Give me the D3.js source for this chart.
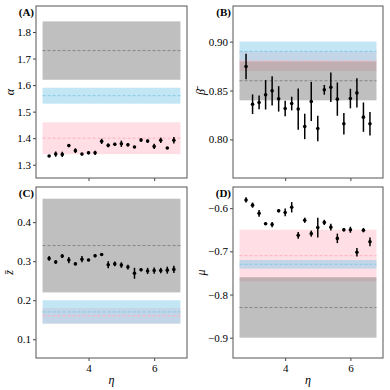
<!DOCTYPE html>
<html><head><meta charset="utf-8">
<script src="https://cdn.jsdelivr.net/npm/d3@7"></script>
<style>
body{margin:0;background:#fff;}
text{font-family:"Liberation Serif","DejaVu Serif",serif;}
</style></head>
<body><svg id="c" width="390" height="390"></svg>
<script>
// ---- data ----
const eta = [2.8,3.0,3.2,3.4,3.6,3.8,4.0,4.2,4.4,4.6,4.8,5.0,5.2,5.4,5.6,5.8,6.0,6.2,6.4,6.6];
const alphaVals = [1.333,1.340,1.339,1.372,1.353,1.340,1.345,1.345,1.388,1.373,1.377,1.379,1.375,1.367,1.393,1.389,1.369,1.392,1.363,1.392];
const alphaErr  = [0.003,0.010,0.010,0.005,0.009,0.003,0.006,0.008,0.010,0.007,0.006,0.012,0.006,0.004,0.007,0.006,0.010,0.010,0.003,0.012];
const betaVals = [0.8745,0.836,0.8378,0.8456,0.8497,0.8415,0.8316,0.8367,0.831,0.8133,0.8388,0.8112,0.8507,0.8534,0.8412,0.816,0.8418,0.8476,0.8228,0.816];
const betaErr  = [0.013,0.010,0.007,0.015,0.015,0.013,0.008,0.007,0.021,0.013,0.020,0.013,0.005,0.015,0.017,0.011,0.010,0.015,0.015,0.012];
const zVals = [0.307,0.298,0.313,0.303,0.293,0.305,0.303,0.314,0.317,0.291,0.293,0.290,0.285,0.269,0.278,0.275,0.276,0.276,0.277,0.279];
const zErr  = [0.006,0.005,0.005,0.008,0.003,0.008,0.003,0.004,0.003,0.009,0.006,0.007,0.006,0.014,0.004,0.008,0.008,0.007,0.009,0.009];
const muVals = [-0.581,-0.593,-0.612,-0.636,-0.638,-0.606,-0.610,-0.598,-0.663,-0.628,-0.659,-0.645,-0.633,-0.644,-0.670,-0.650,-0.650,-0.702,-0.651,-0.678];
const muErr  = [0.006,0.006,0.008,0.003,0.006,0.004,0.009,0.012,0.008,0.006,0.007,0.023,0.006,0.008,0.011,0.004,0.007,0.010,0.005,0.010];
// bands: [center, low, high] for gray, blue, pink
const alphaBands = [[1.73,1.62,1.84],[1.56,1.53,1.59],[1.40,1.34,1.46]];
const betaBands  = [[0.86,0.84,0.88],[0.89,0.88,0.90],[0.88,0.87,0.89]];
const zBands     = [[0.34,0.22,0.46],[0.17,0.14,0.20],[0.16,0.14,0.18]];
const muBands    = [[-0.83,-0.90,-0.76],[-0.73,-0.74,-0.72],[-0.71,-0.77,-0.65]];
const bandExtent = [2.6, 6.8];
const xTicks = [4, 6];
const alphaTicks = [1.3,1.4,1.5,1.6,1.7,1.8];
const betaTicks = [0.80,0.85,0.90];
const zTicks = [0.1,0.2,0.3,0.4];
const muTicks = [-0.9,-0.8,-0.7,-0.6];

const svg = d3.select("#c");
const bandColors = ["#808080","#87ceeb","#ffc0cb"];
const dashColors = ["#858585","#86c8e8","#ffb0be"];

function panel(o){
  const {x0,y0,w,h,vals,errs,bands,ydom,yticks,fmt,label,ylab,ylabX,showX} = o;
  const g = svg.append("g").attr("transform",`translate(${x0},${y0})`);
  const x = d3.scaleLinear().domain([2.4,7.0]).range([0,w]);
  const y = d3.scaleLinear().domain(ydom).range([h,0]);
  // bands: pink, blue, gray
  [2,1,0].forEach(i=>{
    const b = bands[i];
    g.append("rect").attr("x",x(bandExtent[0])).attr("width",x(bandExtent[1])-x(bandExtent[0]))
      .attr("y",y(b[2])).attr("height",y(b[1])-y(b[2]))
      .attr("fill",bandColors[i]).attr("fill-opacity",0.5);
  });
  [2,1,0].forEach(i=>{
    const b = bands[i];
    g.append("line").attr("x1",x(bandExtent[0])).attr("x2",x(bandExtent[1]))
      .attr("y1",y(b[0])).attr("y2",y(b[0]))
      .attr("stroke",dashColors[i]).attr("stroke-width",1).attr("stroke-dasharray","3,2");
  });
  // error bars
  g.selectAll(".eb").data(eta).enter().append("line")
    .attr("x1",d=>x(d)).attr("x2",d=>x(d))
    .attr("y1",(d,i)=>y(vals[i]-errs[i])).attr("y2",(d,i)=>y(vals[i]+errs[i]))
    .attr("stroke","#000").attr("stroke-width",1.5);
  g.selectAll(".pt").data(eta).enter().append("circle")
    .attr("cx",d=>x(d)).attr("cy",(d,i)=>y(vals[i])).attr("r",1.8).attr("fill","#000");
  // axes
  const ya = d3.axisLeft(y).tickValues(yticks).tickSize(3).tickPadding(2)
    .tickFormat(d=>d3.format(fmt)(d).replace("-","\u2212"));
  const yg = g.append("g").call(ya);
  yg.select(".domain").remove();
  yg.selectAll("text").attr("font-size",11).attr("fill","#000").attr("font-family","Liberation Serif, serif");
  yg.selectAll("line").attr("stroke","#444");
  const xa = d3.axisBottom(x).tickValues(xTicks).tickSize(3).tickPadding(3).tickFormat(d=>showX?d:"");
  const xg = g.append("g").attr("transform",`translate(0,${h})`).call(xa);
  xg.select(".domain").remove();
  xg.selectAll("text").attr("font-size",11).attr("fill","#000").attr("font-family","Liberation Serif, serif");
  xg.selectAll("line").attr("stroke","#444");
  g.append("rect").attr("width",w).attr("height",h).attr("fill","none").attr("stroke","#555").attr("stroke-width",1);
  // labels
  g.append("text").attr("x",-2).attr("y",10).attr("text-anchor","end")
    .attr("font-size",11).attr("font-weight","bold").text(label);
  g.append("text").attr("transform",`translate(${ylabX},${h/2}) rotate(-90)`)
    .attr("text-anchor","middle").attr("font-size",12).attr("font-style","italic").text(ylab);
  if(showX){
    g.append("text").attr("x",w/2).attr("y",h+26).attr("text-anchor","middle")
      .attr("font-size",12).attr("font-style","italic").text("\u03b7");
  }
}

panel({x0:36,y0:6,w:151,h:172,vals:alphaVals,errs:alphaErr,bands:alphaBands,ydom:[1.25,1.898],yticks:alphaTicks,fmt:".1f",label:"(A)",ylab:"\u03b1",ylabX:-22,showX:false});
panel({x0:233,y0:6,w:150,h:172,vals:betaVals,errs:betaErr,bands:betaBands,ydom:[0.7606,0.9364],yticks:betaTicks,fmt:".2f",label:"(B)",ylab:"\u03b2\u0304",ylabX:-28,showX:false});
panel({x0:36,y0:187,w:151,h:171,vals:zVals,errs:zErr,bands:zBands,ydom:[0.052,0.49],yticks:zTicks,fmt:".1f",label:"(C)",ylab:"z\u0304",ylabX:-23,showX:true});
panel({x0:233,y0:187,w:150,h:171,vals:muVals,errs:muErr,bands:muBands,ydom:[-0.947,-0.551],yticks:muTicks,fmt:".1f",label:"(D)",ylab:"\u03bc",ylabX:-28,showX:true});
</script></body></html>
